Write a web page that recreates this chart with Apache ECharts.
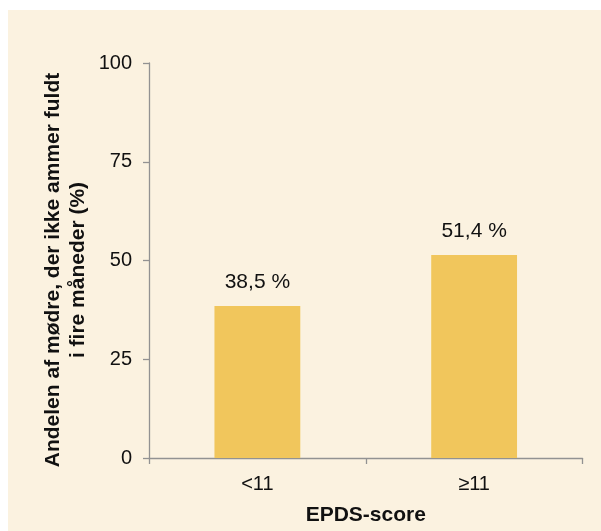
<!DOCTYPE html>
<html>
<head>
<meta charset="utf-8">
<script src="https://cdn.jsdelivr.net/npm/echarts@6/dist/echarts.min.js"></script>
<style>
  html, body { margin: 0; padding: 0; background: #ffffff; }
  #panel { position: absolute; left: 8px; top: 10px; width: 593px; height: 521px; background: #FBF2E0; }
  #chart { position: absolute; left: 0; top: 0; width: 601px; height: 531px; }
</style>
</head>
<body>
<div id="panel"></div>
<div id="chart"></div>
<script>
// EPDS score groups and share of mothers not fully breastfeeding at four months (%)
const categories = ['<11', '≥11'];
const shares = [38.5, 51.4];
const yTicks = [0, 25, 50, 75, 100];

const yTitle = 'Andelen af mødre, der ikke ammer fuldt\ni fire måneder (%)';
const xTitle = 'EPDS-score';

const font = 'Liberation Sans, Arial, sans-serif';
const axisGrey = '#929292';

const chart = echarts.init(document.getElementById('chart'), null, { renderer: 'canvas' });
chart.setOption({
  backgroundColor: 'transparent',
  animation: false,
  textStyle: { fontFamily: font },
  grid: { left: 149, right: 18.5, top: 63, bottom: 71.5, containLabel: false },
  xAxis: {
    type: 'category',
    data: categories,
    axisLine: { lineStyle: { color: axisGrey, width: 1.3 } },
    axisTick: { show: true, length: 6, lineStyle: { color: axisGrey, width: 1.3 } },
    axisLabel: { color: '#111111', fontSize: 20, margin: 16, fontFamily: font },
    name: xTitle,
    nameLocation: 'middle',
    nameGap: 47,
    nameTextStyle: { color: '#111111', fontSize: 21, fontWeight: 'bold', fontFamily: font }
  },
  yAxis: {
    type: 'value',
    min: yTicks[0],
    max: yTicks[yTicks.length - 1],
    interval: yTicks[1] - yTicks[0],
    splitLine: { show: false },
    axisLine: { show: true, lineStyle: { color: axisGrey, width: 1.3 } },
    axisTick: { show: true, length: 6, lineStyle: { color: axisGrey, width: 1.3 } },
    axisLabel: { color: '#111111', fontSize: 20, margin: 17, fontFamily: font }
  },
  graphic: [{
    type: 'text',
    x: 65.5,
    y: 270,
    rotation: Math.PI / 2,
    style: {
      text: yTitle,
      fill: '#111111',
      font: 'bold 21px ' + font,
      align: 'center',
      verticalAlign: 'middle',
      lineHeight: 25
    }
  }],
  series: [{
    type: 'bar',
    data: shares,
    barWidth: '39.6%',
    itemStyle: { color: '#F1C65C' },
    label: {
      show: true,
      position: 'top',
      distance: 13,
      color: '#111111',
      fontSize: 21,
      fontFamily: font,
      formatter: p => String(p.value).replace('.', ',') + ' %'
    }
  }]
});
</script>
</body>
</html>
